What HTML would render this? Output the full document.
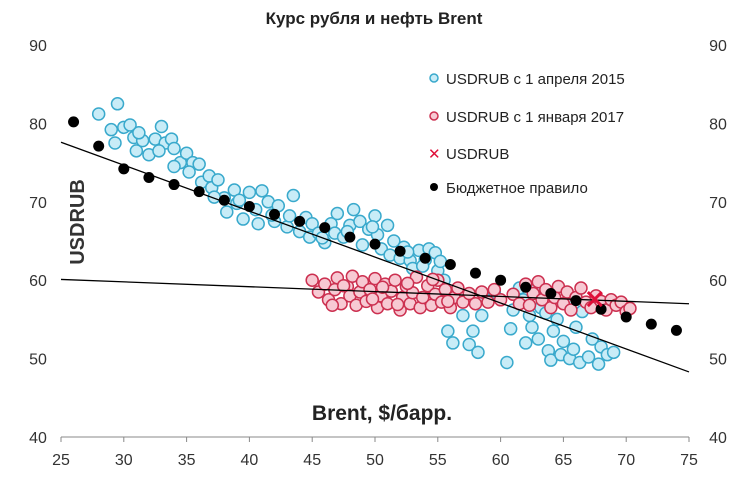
<!DOCTYPE html>
<html><head><meta charset="utf-8"><style>
body{margin:0;background:#fff;}
svg text{font-family:"Liberation Sans","DejaVu Sans",sans-serif;}
</style></head><body>
<svg id="chart" width="749" height="478" xmlns="http://www.w3.org/2000/svg">
<rect width="749" height="478" fill="#fff"/>
<text x="374" y="24" text-anchor="middle" font-size="17" font-weight="bold" fill="#222">Курс рубля и нефть Brent</text>
<g id="axes"></g>
<g id="marks"></g>
<text transform="translate(84,222) rotate(-90)" text-anchor="middle" font-size="20" font-weight="bold" fill="#333">USDRUB</text>
<text x="382" y="420" text-anchor="middle" font-size="21" font-weight="bold" fill="#222">Brent, $/барр.</text>
<g>
<circle cx="434" cy="78" r="4" fill="#c8ecf7" stroke="#39a9cc" stroke-width="1.5"/>
<text x="446" y="84" font-size="15" fill="#222">USDRUB с 1 апреля  2015</text>
<circle cx="434" cy="116" r="4" fill="#f7c9d3" stroke="#cc3050" stroke-width="1.5"/>
<text x="446" y="122" font-size="15" fill="#222">USDRUB с 1 января  2017</text>
<text x="428" y="159" font-size="15" font-weight="bold" fill="#e0103a">✕</text>
<text x="446" y="159" font-size="15" fill="#222">USDRUB</text>
<circle cx="434" cy="187" r="4" fill="#000"/>
<text x="446" y="193" font-size="15" fill="#222">Бюджетное правило</text>
</g>
</svg>
<script>
const xTicks=[25,30,35,40,45,50,55,60,65,70,75];
const yTicks=[40,50,60,70,80,90];
const budgetX=[26,28,30,32,34,36,38,40,42,44,46,48,50,52,54,56,58,60,62,64,66,68,70,72,74];
const budgetY=[80.2,77.1,74.2,73.1,72.2,71.3,70.2,69.4,68.4,67.5,66.7,65.5,64.6,63.7,62.8,62,60.9,60,59.1,58.3,57.4,56.3,55.3,54.4,53.6];
const lineX=[25,75];
const steepY=[77.6,48.3];
const flatY=[60.1,57.0];
const markX=[67.5];
const markY=[57.6];
const blueX=[28,29,29.5,29.3,30,30.5,30.8,31,31.5,32,32.5,33,33.3,33.8,34,34.5,34,35,35.5,36,36.2,36.8,37,37.5,38,38.2,38.8,39,39.5,40,40.5,40.7,41,41.5,42,42.3,43,43.5,44,44.5,44.8,45,45.5,46,46.5,46.8,47,47.5,48,48.3,48.8,49,49.5,50,50.2,50.5,51,51.2,51.5,52,52.3,52.8,53,53.5,54,54.3,54.8,55,55.5,55.8,56.2,57,57.5,57.8,58.2,58.5,59,59.5,60.5,60.8,61,61.8,62,62.3,62.5,63,63.2,63.5,63.8,64,64.2,64.5,64.8,65,65.3,65.5,65.8,66,66.3,66.5,67,67.3,67.8,68,68.5,69,63.6,62.8,61.5,31.2,32.8,35.2,37.2,39.2,41.8,43.2,45.8,47.8,49.8,52.6,53.8,55.2];
const blueY=[81.2,79.2,82.5,77.5,79.5,79.8,78.2,76.5,77.8,76,78,79.6,77.5,78,76.8,75,74.5,76.2,75,74.8,72.5,73.3,71.8,72.8,70.5,68.7,71.5,69.8,67.8,71.2,69,67.2,71.4,70,67.5,69.5,66.8,70.8,66.2,68,65.5,67.2,66,64.8,67.2,66,68.5,65.5,67,69,67.5,64.5,66.5,68.2,65.8,64,67,63.2,65,62.8,64.2,62.5,61.5,63.8,62.6,64,63.5,61.2,60,53.5,52,55.5,51.8,53.5,50.8,55.5,57.8,58.5,49.5,53.8,56.2,57.5,52,55.5,54,52.5,56.5,58.5,51,49.8,53.5,55,50.5,52.2,57,50,51.2,54,49.5,56,50.2,52.5,49.3,51.5,50.5,50.8,55.8,58.8,59,78.8,76.5,73.8,70.6,70.2,68.3,68.2,65.4,66.2,66.8,63.6,61.8,62.4];
const redX=[45,45.5,46,46.3,46.8,47,47.3,47.8,48,48.2,48.5,48.8,49,49.3,49.6,50,50.2,50.5,50.8,51,51.3,51.6,52,52.2,52.5,52.8,53,53.3,53.6,54,54.2,54.5,54.8,55,55.3,55.6,56,56.3,56.6,57,57.5,58,58.5,59,59.5,60,61,61.5,62,62.3,62.6,63,63.3,63.6,64,64.3,64.6,65,65.3,65.6,66,66.4,66.8,67.2,67.6,68,68.4,68.8,69.2,69.6,70,70.3,47.5,49.8,51.8,53.8,55.8,46.6,50.6,52.6,54.6];
const redY=[60,58.5,59.5,57.5,58.8,60.3,57,59.2,58,60.5,56.8,58.5,59.8,57.3,58.8,60.2,56.5,58,59.5,57,58.6,60,56.2,57.8,59.2,57,58.4,60.4,56.5,57.8,59.3,56.8,58.2,60,57.2,58.8,56.5,57.8,59,57.2,58.3,57,58.5,57.2,58.8,57.5,58.2,57,59.5,56.8,58.3,59.8,57.5,58.8,56.5,57.8,59.2,57,58.5,56.2,57.8,59,57.2,56.5,58,57.3,56.2,57.5,56.8,57.2,56,56.4,59.3,57.6,56.9,57.8,57.3,56.8,59.1,59.6,60.1];
const X0=61,X1=689,Y0=437,Y1=45;
function sx(v){return X0+(v-25)/(75-25)*(X1-X0);}
function sy(v){return Y0-(v-40)/(90-40)*(Y0-Y1);}
const NS="http://www.w3.org/2000/svg";
function mk(t,a,p){const e=document.createElementNS(NS,t);for(const k in a)e.setAttribute(k,a[k]);p.appendChild(e);return e;}
const axes=document.getElementById('axes'),marks=document.getElementById('marks');
let e=mk('line',{x1:X0,y1:Y0,x2:X1,y2:Y0,stroke:'#888','stroke-width':1},axes);


xTicks.forEach(v=>{
 let t=mk('line',{x1:sx(v),y1:Y0,x2:sx(v),y2:Y0+5,stroke:'#888'},axes);
 
 
 let l=mk('text',{x:sx(v),y:Y0+28,'text-anchor':'middle','font-size':16,fill:'#333'},axes);l.textContent=v;
 
 
});
yTicks.forEach(v=>{
 let l=mk('text',{x:38,y:sy(v)+6,'text-anchor':'middle','font-size':16,fill:'#333'},axes);l.textContent=v;
 
 
 let r=mk('text',{x:718,y:sy(v)+6,'text-anchor':'middle','font-size':16,fill:'#333'},axes);r.textContent=v;
 
 
});
blueX.forEach((x,i)=>{
 let c=mk('circle',{cx:sx(x),cy:sy(blueY[i]),r:6,fill:'#c8ecf7',stroke:'#39a9cc','stroke-width':1.5},marks);
 
 
});
redX.forEach((x,i)=>{
 let c=mk('circle',{cx:sx(x),cy:sy(redY[i]),r:6,fill:'#f7c9d3',stroke:'#cc3050','stroke-width':1.5},marks);
 
 
});
let l1=mk('line',{x1:sx(lineX[0]),y1:sy(steepY[0]),x2:sx(lineX[1]),y2:sy(steepY[1]),stroke:'#000','stroke-width':1.3},marks);


let l2=mk('line',{x1:sx(lineX[0]),y1:sy(flatY[0]),x2:sx(lineX[1]),y2:sy(flatY[1]),stroke:'#000','stroke-width':1.3},marks);


budgetX.forEach((x,i)=>{
 let c=mk('circle',{cx:sx(x),cy:sy(budgetY[i]),r:5.5,fill:'#000'},marks);
 
 
});
markX.forEach((x,i)=>{
 const cx=sx(x),cy=sy(markY[i]);
 let p=mk('path',{d:`M${cx-7} ${cy-7}L${cx+7} ${cy+7}M${cx+7} ${cy-7}L${cx-7} ${cy+7}`,stroke:'#e0103a','stroke-width':3},marks);
 
 
});
</script>
</body></html>
